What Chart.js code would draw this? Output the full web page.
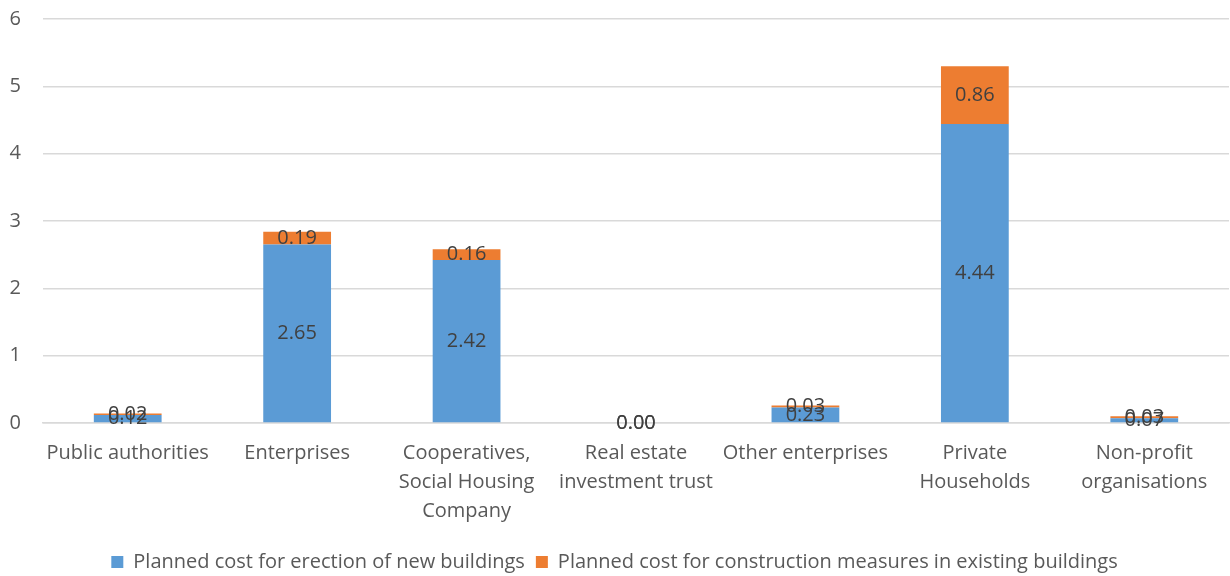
<!DOCTYPE html>
<html lang="en-US">
<head>
    <meta charset="UTF-8">
    <title>planned costs</title>
    <style>
        html, body { margin: 0; padding: 0; background: #fff; }
        #wrap { width: 1230px; height: 576px; }
    </style>
</head>
<body>
    <div id="wrap">
        <canvas id="costChart"></canvas>
    </div>
    <script src="https://cdn.jsdelivr.net/npm/chart.js"></script>
    <script>
        // values
        const categories = [
            'Public authorities',
            'Enterprises',
            ['Cooperatives,', 'Social Housing', 'Company'],
            ['Real estate', 'investment trust'],
            'Other enterprises',
            ['Private', 'Households'],
            ['Non-profit', 'organisations']
        ]
        const newBuildings = [0.12, 2.65, 2.42, 0.00, 0.23, 4.44, 0.07]
        const existingBuildings = [0.02, 0.19, 0.16, 0.00, 0.03, 0.86, 0.03]
        const yTicks = [0, 1, 2, 3, 4, 5, 6]

        const fontFamily = '"Open Sans", Lato, sans-serif'
        const textColor = '#595959'

        // small plugin that writes each value in the middle of its bar segment
        const valueLabels = {
            id: 'valueLabels',
            afterDatasetsDraw(chart) {
                const ctx = chart.ctx
                ctx.save()
                ctx.font = '20px ' + fontFamily
                ctx.fillStyle = '#404040'
                ctx.textAlign = 'center'
                ctx.textBaseline = 'middle'
                chart.data.datasets.forEach((ds, i) => {
                    const meta = chart.getDatasetMeta(i)
                    meta.data.forEach((bar, j) => {
                        const mid = (bar.y + bar.base) / 2
                        ctx.fillText(ds.data[j].toFixed(2), bar.x, mid)
                    })
                })
                ctx.restore()
            }
        }

        const ctx = document.getElementById('costChart').getContext('2d')
        new Chart(ctx, {
            type: 'bar',
            data: {
                labels: categories,
                datasets: [
                    {
                        label: 'Planned cost for erection of new buildings',
                        data: newBuildings,
                        backgroundColor: '#5b9bd5',
                        barPercentage: 0.4,
                        categoryPercentage: 1.0
                    },
                    {
                        label: 'Planned cost for construction measures in existing buildings',
                        data: existingBuildings,
                        backgroundColor: '#ed7d31',
                        barPercentage: 0.4,
                        categoryPercentage: 1.0
                    }
                ]
            },
            options: {
                responsive: true,
                maintainAspectRatio: false,
                animation: false,
                layout: {
                    // legend keeps a fixed 10px gap below it, pull it down a bit
                    padding: { top: 0, left: 0, right: 1, bottom: -6 }
                },
                plugins: {
                    tooltip: { enabled: false },
                    legend: {
                        position: 'bottom',
                        labels: {
                            color: textColor,
                            font: { family: fontFamily, size: 20 },
                            boxWidth: 12,
                            boxHeight: 12,
                            padding: 11
                        }
                    }
                },
                scales: {
                    x: {
                        stacked: true,
                        afterFit(scale) { scale.height += 7 },
                        grid: { display: false },
                        border: { color: '#d9d9d9', width: 1.5 },
                        ticks: {
                            color: textColor,
                            font: { family: fontFamily, size: 20, lineHeight: 1.45 },
                            padding: 8,
                            maxRotation: 0,
                            autoSkip: false
                        }
                    },
                    y: {
                        stacked: true,
                        min: yTicks[0],
                        max: yTicks[yTicks.length - 1],
                        afterFit(scale) { scale.width = 43 },
                        // tick marks are hidden, they only keep the labels away from the grid
                        grid: { color: '#d9d9d9', lineWidth: 1.5, drawTicks: true, tickLength: 22, tickColor: 'rgba(0,0,0,0)' },
                        border: { display: false },
                        ticks: {
                            stepSize: 1,
                            color: textColor,
                            font: { family: fontFamily, size: 20, lineHeight: 1.9 },
                            padding: 0
                        }
                    }
                }
            },
            plugins: [valueLabels]
        })
    </script>
</body>
</html>
